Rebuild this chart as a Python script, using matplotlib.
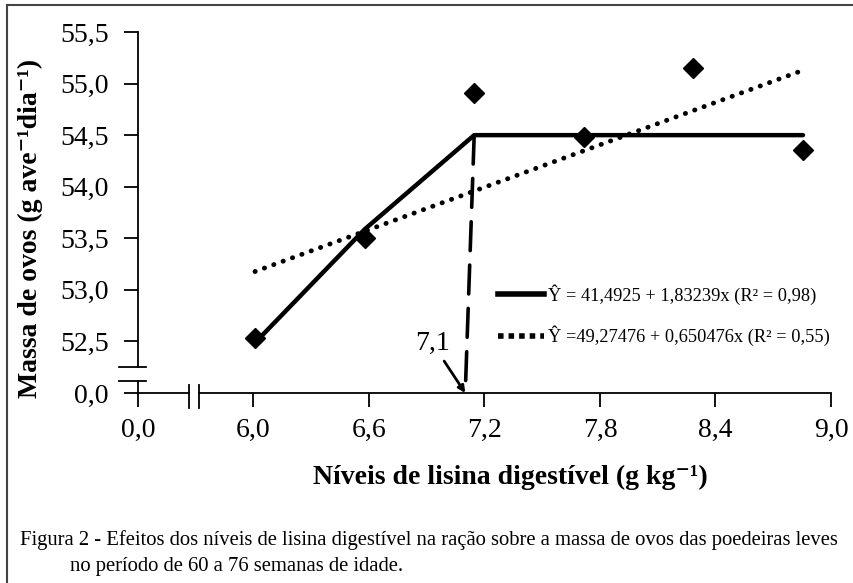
import matplotlib
matplotlib.use("Agg")
import matplotlib.pyplot as plt
from matplotlib.patches import ConnectionPatch
from matplotlib.lines import Line2D

plt.rcParams["font.family"] = ["Liberation Serif", "DejaVu Serif"]

# níveis de lisina e massa de ovos observada
niveis = [6.0, 6.6, 7.2, 7.8, 8.4, 9.0]
massa = [52.53, 53.50, 54.91, 54.48, 55.15, 54.36]

# modelos ajustados
lrp_a, lrp_b, plato = 41.4925, 1.83239, 54.5
lin_a, lin_b = 49.27476, 0.650476
ponto_quebra = 7.1

xticks = [5.4, 6.0, 6.6, 7.2, 7.8, 8.4, 9.0]
xlabels = ["0,0", "6,0", "6,6", "7,2", "7,8", "8,4", "9,0"]
yticks = [52.0, 52.5, 53.0, 53.5, 54.0, 54.5, 55.0, 55.5]
ylabels = ["0,0", "52,5", "53,0", "53,5", "54,0", "54,5", "55,0", "55,5"]

W, H = 854, 583
fig = plt.figure(figsize=(W / 100, H / 100), dpi=100)

# eixo com as marcas (escala do desenho)
x0, x1, y0, y1 = 138, 831, 32, 393
pos = [x0 / W, 1 - y1 / H, (x1 - x0) / W, (y1 - y0) / H]
ax = fig.add_axes(pos)
ax.set_xlim(5.4, 9.0)
ax.set_ylim(52.0, 55.5)
for s in ax.spines.values():
    s.set_visible(False)
ax.set_xticks(xticks)
ax.set_xticklabels(xlabels)
ax.set_yticks(yticks)
ax.set_yticklabels(ylabels)
ax.tick_params(axis="both", labelsize=20, length=10, width=1.3, direction="out")
ax.tick_params(axis="x", pad=8)
ax.tick_params(axis="y", pad=11)

# eixos com quebra
k = dict(color="black", lw=1.3, clip_on=False)
ax.plot([5.4, 5.4], [52.0, 52.12], **k)
ax.plot([5.4, 5.4], [52.25, 55.5], **k)
ax.plot([5.3, 5.44], [52.25, 52.25], **k)
ax.plot([5.3, 5.44], [52.12, 52.12], **k)
ax.plot([5.4, 5.665], [52.0, 52.0], **k)
ax.plot([5.717, 9.0], [52.0, 52.0], **k)
ax.plot([5.665, 5.665], [51.85, 52.08], **k)
ax.plot([5.717, 5.717], [51.85, 52.08], **k)

ax.set_xlabel("Níveis de lisina digestível (g kg⁻¹)", fontsize=20,
              fontweight="bold")
ax.xaxis.set_label_coords(0.537, -0.199)
ax.set_ylabel("Massa de ovos (g ave⁻¹dia⁻¹)", fontsize=20,
              fontweight="bold")
ax.yaxis.set_label_coords(-0.137, 0.455)

# eixo dos dados (sobreposto, como no gráfico original)
ax2 = fig.add_axes(pos)
ax2.set_xlim(5.3595, 9.1533)
ax2.set_ylim(52.0, 55.5)
ax2.axis("off")
ax2.patch.set_alpha(0)

lrp = [min(lrp_a + lrp_b * x, plato) for x in niveis]
lin = [lin_a + lin_b * x for x in niveis]

l1, = ax2.plot(niveis, lrp, color="black", lw=3.2, solid_capstyle="round",
               label="Ŷ = 41,4925 + 1,83239x (R² = 0,98)")
l2, = ax2.plot(niveis, lin, color="black", lw=3.5, linestyle=(0, (0.05, 2.0)),
               dash_capstyle="round",
               label="Ŷ =49,27476 + 0,650476x (R² = 0,55)")
ax2.plot(niveis, massa, linestyle="none", marker="D", ms=10.5, color="black")

# linha tracejada até o ponto de quebra
con = ConnectionPatch(xyA=(niveis[2], plato), coordsA=ax2.transData,
                      xyB=(ponto_quebra, 52.0), coordsB=ax.transData,
                      color="black", lw=2.6, linestyle=(0, (8, 4)))
fig.add_artist(con)

ax.annotate("7,1", xy=(ponto_quebra, 52.0), xytext=(6.93, 52.48),
            fontsize=20, ha="center", va="center",
            arrowprops=dict(arrowstyle="-|>", color="black", lw=2,
                            mutation_scale=10, shrinkA=2, shrinkB=0))

h1 = Line2D([], [], color="black", lw=4)
h2 = Line2D([], [], color="black", lw=4, linestyle=(0, (1, 0.9)))
fig.legend([h1, h2], [l1.get_label(), l2.get_label()], loc="upper left",
           bbox_to_anchor=(489 / W, 1 - 275 / H), frameon=False, fontsize=13.2,
           borderpad=0, handlelength=2.5, handletextpad=0.2, labelspacing=1.15)

# legenda da figura
fig.text(20 / W, 1 - 540 / H,
         "Figura 2 - Efeitos dos níveis de lisina digestível na ração sobre a massa de ovos das poedeiras leves",
         fontsize=14.9, va="center", ha="left")
fig.text(70 / W, 1 - 567 / H, "no período de 60 a 76 semanas de idade.",
         fontsize=14.9, va="center", ha="left")

# moldura
fig.add_artist(Line2D([7 / W, 7 / W], [0, 1 - 5 / H], color="#444444", lw=1.5))
fig.add_artist(Line2D([7 / W, 1], [1 - 5 / H, 1 - 5 / H], color="#444444", lw=1.5))

fig.savefig("out.png", dpi=100)
